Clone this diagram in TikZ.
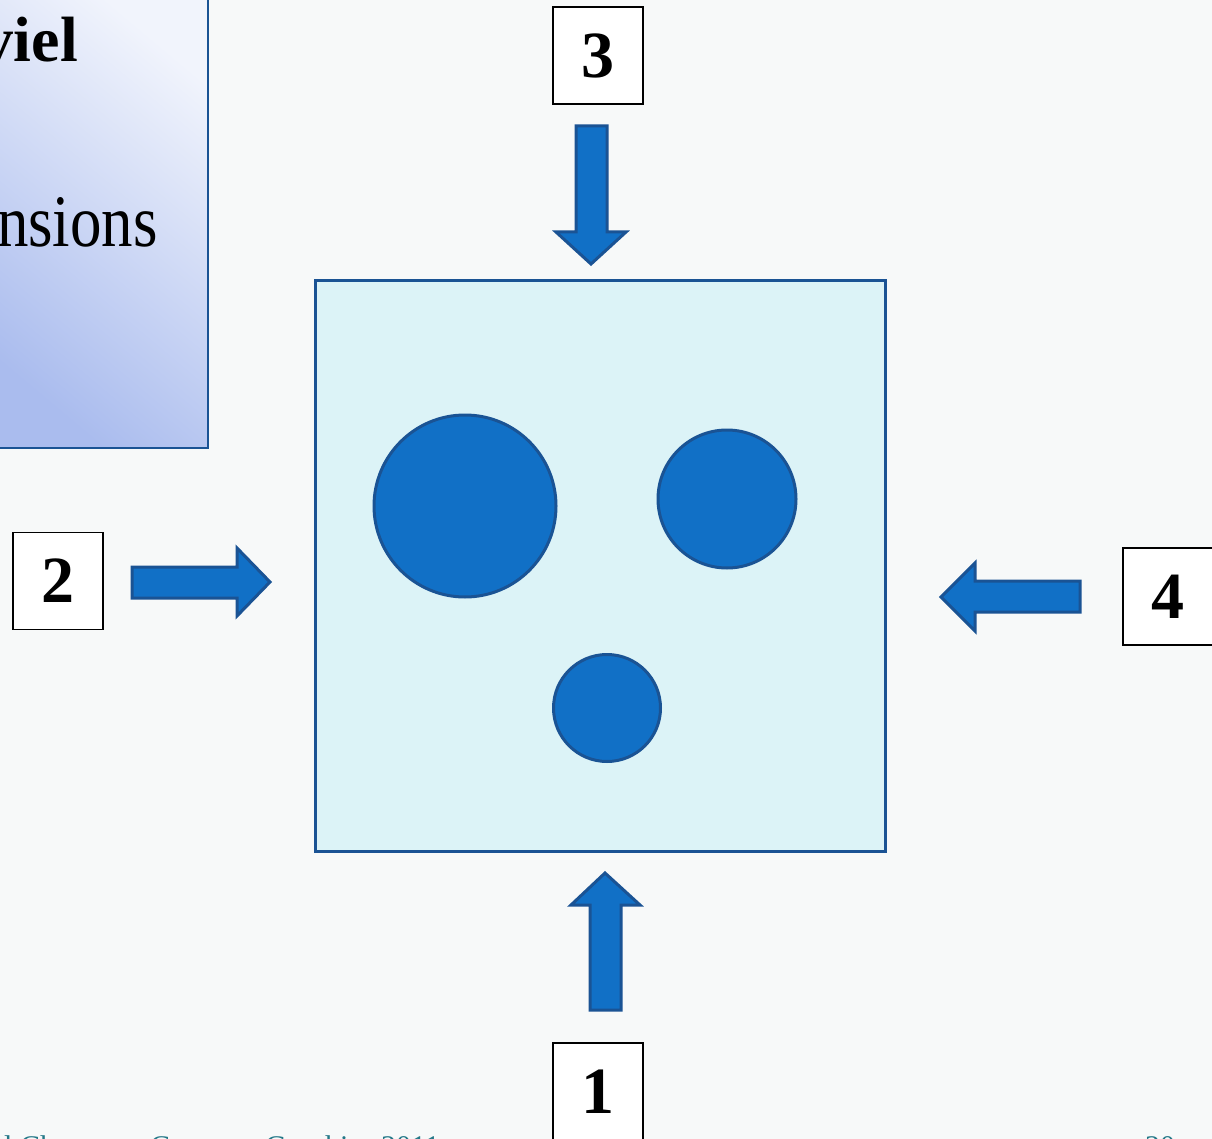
\documentclass[tikz,border=0pt]{standalone}
\usepackage{fontspec}
\setmainfont{Liberation Serif}
\definecolor{bgc}{HTML}{F7F9F9}
\definecolor{boxfill}{HTML}{DCF3F7}
\definecolor{edgeblue}{HTML}{1A5394}
\definecolor{blobfill}{HTML}{1170C6}
\definecolor{panellight}{HTML}{F1F4FC}
\definecolor{paneldark}{HTML}{AABCEE}
\definecolor{footc}{HTML}{247888}
\tikzset{
  numbox/.style={draw=black, line width=1.3pt, fill=white, minimum width=90pt, minimum height=97pt, inner sep=0pt, font=\fontsize{66}{66}\selectfont\bfseries},
  blockarrow/.style={fill=blobfill, draw=edgeblue, line width=3pt, line join=miter},
  blob/.style={circle, fill=blobfill, draw=edgeblue, line width=3pt, inner sep=0pt},
  foot/.style={text=footc, font=\fontsize{30}{30}\selectfont, inner sep=0pt}
}
\begin{document}
\begin{tikzpicture}[x=1pt,y=-1pt]
\useasboundingbox (0,0) rectangle (1212,1139);
\begin{scope}
\clip (0,0) rectangle (1212,1139);
\fill[bgc] (0,0) rectangle (1212,1139);
% left panel
\shade[top color=panellight, bottom color=paneldark, shading angle=-40] (-10,-10) rectangle (208,448);
\draw[edgeblue, line width=2pt] (-10,-10) -- (208,-10) -- (208,448) -- (-10,448);
\node[anchor=base east, inner sep=0pt, font=\fontsize{64}{64}\selectfont\bfseries] (title) at (78,62) {viel};
\node[anchor=base east, inner sep=0pt, xscale=0.85, font=\fontsize{74}{74}\selectfont] (body) at (158,247) {nsions};
% main square
\node[draw=edgeblue, line width=3pt, fill=boxfill, minimum width=570pt, minimum height=570pt, inner sep=0pt] (sq) at (600,566) {};
% circles
\node[blob, minimum size=182pt] (c1) at (465,506) {};
\node[blob, minimum size=138pt] (c2) at (727,499) {};
\node[blob, minimum size=107pt] (c3) at (607,708) {};
% arrows
\draw[blockarrow] (576,126) -- (607,126) -- (607,232) -- (626,232) -- (591,264) -- (556,232) -- (576,232) -- cycle;
\draw[blockarrow] (590,1010) -- (621,1010) -- (621,905) -- (640,905) -- (605,873) -- (571,905) -- (590,905) -- cycle;
\draw[blockarrow] (132,567) -- (237,567) -- (237,548) -- (270,582) -- (237,616) -- (237,598) -- (132,598) -- cycle;
\draw[blockarrow] (1080,581) -- (975,581) -- (975,563) -- (941,597) -- (975,631) -- (975,612) -- (1080,612) -- cycle;
% number boxes
\node[numbox] (n3) at (598,55.5) {3};
\node[numbox] (n2) at (58,581) {2};
\node[numbox] (n4) at (1168,596.5) {4};
\draw[black, line width=1.3pt, fill=white] (553,1150) -- (553,1043) -- (643,1043) -- (643,1150);
\node[anchor=base, inner sep=0pt, font=\fontsize{66}{66}\selectfont\bfseries] (n1) at (598,1113) {1};
% footer
\node[foot, anchor=base west] (f1) at (4,1156) {l Chen};
\node[foot, anchor=base west] (f2) at (150,1156) {Course};
\node[foot, anchor=base west] (f3) at (265,1156) {Graphics 2011};
\node[foot, anchor=base west] (f4) at (1145,1156) {20};
\end{scope}
\end{tikzpicture}
\end{document}
